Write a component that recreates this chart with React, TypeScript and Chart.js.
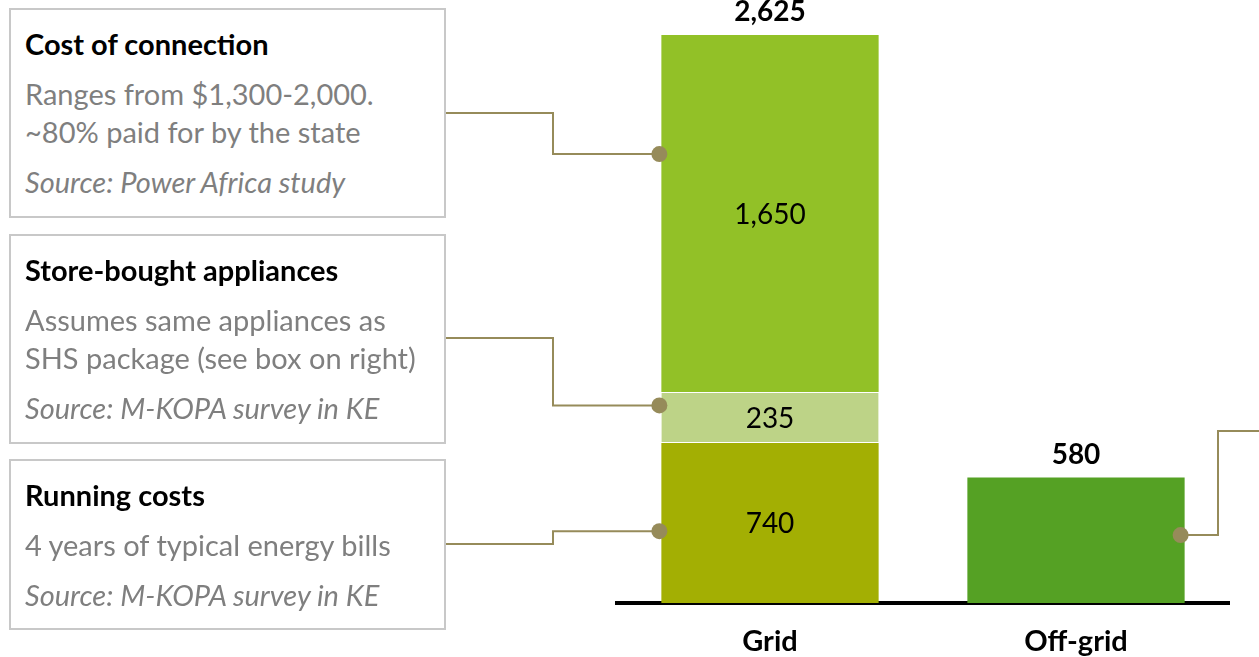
import React, { useEffect, useRef } from "react";
import { Chart, registerables } from "chart.js";

Chart.register(...registerables);

const categories = ["Grid", "Off-grid"];
const runningCosts = [740, null];
const appliances = [235, null];
const connection = [1650, null];
const offGrid = [null, 580];
const segmentColors = ["#A3AF03", "#BDD387", "#92C127", "#55A124"];
// connector anchor values (data units) for annotation dots
const anchorValues = [2075, 913, 332, 314];

const FONT = "Lato, 'Open Sans', sans-serif";
const LINE = "#968B5A";
const BOX_FONT = 29;

const boxes = [
  { top: 8, height: 210, title: "Cost of connection", lines: ["Ranges from $1,300-2,000.", "~80% paid for by the state"], source: "Source: Power Africa study", edgeY: 113 },
  { top: 234, height: 210, title: "Store-bought appliances", lines: ["Assumes same appliances as", "SHS package (see box on right)"], source: "Source: M-KOPA survey in KE", edgeY: 338 },
  { top: 459, height: 171, title: "Running costs", lines: ["4 years of typical energy bills"], source: "Source: M-KOPA survey in KE", edgeY: 544 },
];

export default function App() {
  const ref = useRef<HTMLCanvasElement>(null);
  useEffect(() => {
    if (!ref.current) return;
    const labelsPlugin = {
      id: "labels",
      afterDatasetsDraw(chart: any) {
        const ctx = chart.ctx;
        ctx.save();
        ctx.textAlign = "center";
        ctx.textBaseline = "middle";
        ctx.fillStyle = "#000";
        // segment labels for Grid
        [0, 1, 2].forEach((di) => {
          const meta = chart.getDatasetMeta(di);
          const bar = meta.data[0];
          const v = chart.data.datasets[di].data[0];
          if (v == null) return;
          ctx.font = "28px " + FONT;
          ctx.fillText(Number(v).toLocaleString("en-US"), bar.x, (bar.y + bar.base) / 2 + 1);
        });
        // totals
        categories.forEach((_, ci) => {
          let total = 0;
          let topY = Infinity;
          let x = 0;
          chart.data.datasets.forEach((ds: any, di: number) => {
            const v = ds.data[ci];
            if (v == null) return;
            total += v;
            const bar = chart.getDatasetMeta(di).data[ci];
            topY = Math.min(topY, bar.y);
            x = bar.x;
          });
          ctx.font = "bold 28px " + FONT;
          ctx.fillText(total.toLocaleString("en-US"), x, topY - 23);
        });
        // connectors
        ctx.strokeStyle = LINE;
        ctx.fillStyle = LINE;
        ctx.lineWidth = 2;
        const y = chart.scales.y;
        const gridBar = chart.getDatasetMeta(0).data[0];
        const leftX = gridBar.x - gridBar.width / 2 - 2;
        boxes.forEach((b, i) => {
          const py = y.getPixelForValue(anchorValues[i]);
          ctx.beginPath();
          ctx.moveTo(446, b.edgeY);
          ctx.lineTo(553, b.edgeY);
          ctx.lineTo(553, py);
          ctx.lineTo(leftX, py);
          ctx.stroke();
          ctx.beginPath();
          ctx.arc(leftX, py, 8, 0, Math.PI * 2);
          ctx.fill();
        });
        const offBar = chart.getDatasetMeta(3).data[1];
        const rx = offBar.x + offBar.width / 2 - 4;
        const ry = y.getPixelForValue(anchorValues[3]);
        ctx.beginPath();
        ctx.moveTo(rx, ry);
        ctx.lineTo(1218, ry);
        ctx.lineTo(1218, 431);
        ctx.lineTo(1260, 431);
        ctx.stroke();
        ctx.beginPath();
        ctx.arc(rx, ry, 8, 0, Math.PI * 2);
        ctx.fill();
        ctx.restore();
      },
    };
    const seg = (label: string, data: any[], color: string, border: boolean) => ({
      label,
      data,
      backgroundColor: color,
      borderColor: "#ffffff",
      borderWidth: border ? { top: 1, bottom: 1, left: 0, right: 0 } : 0,
      borderSkipped: false,
      barPercentage: 0.71,
      categoryPercentage: 1,
    });
    const chart = new Chart(ref.current, {
      type: "bar",
      data: {
        labels: categories,
        datasets: [
          seg("Running costs", runningCosts, segmentColors[0], false),
          seg("Store-bought appliances", appliances, segmentColors[1], true),
          seg("Cost of connection", connection, segmentColors[2], false),
          seg("Off-grid", offGrid, segmentColors[3], false),
        ],
      },
      options: {
        responsive: false,
        animation: false,
        layout: { padding: { left: 617, right: 30, top: 0, bottom: 0 } },
        plugins: { legend: { display: false }, tooltip: { enabled: false } },
        scales: {
          x: {
            stacked: true,
            grid: { display: false, drawTicks: false },
            border: { display: true, color: "#000", width: 4 },
            ticks: { color: "#000", font: { family: FONT, size: 29, weight: "bold" }, padding: 21 },
            afterFit: (scale: any) => {
              scale.height = 54;
            },
          },
          y: { stacked: true, display: false, min: 0, max: 2787 },
        },
      },
      plugins: [labelsPlugin],
    });
    return () => chart.destroy();
  }, []);

  return (
    <div style={{ position: "fixed", left: 0, top: 0, width: 1259, height: 657, background: "#fff", fontFamily: FONT }}>
      <canvas ref={ref} width={1259} height={657} style={{ position: "absolute", left: 0, top: 0 }} />
      {boxes.map((b, i) => (
        <div
          key={i}
          style={{
            position: "absolute",
            left: 9,
            top: b.top,
            width: 437,
            height: b.height,
            boxSizing: "border-box",
            border: "2px solid #C8C8C8",
            background: "#fff",
          }}
        >
          <div style={{ position: "absolute", left: 14, top: 36 - 2 - 17, lineHeight: "34px", fontSize: BOX_FONT, fontWeight: "bold", color: "#000", whiteSpace: "nowrap" }}>{b.title}</div>
          {b.lines.map((l, j) => (
            <div key={j} style={{ position: "absolute", left: 14, top: 86 + j * 38 - 2 - 17, lineHeight: "34px", fontSize: BOX_FONT, color: "#7F7F7F", whiteSpace: "nowrap" }}>{l}</div>
          ))}
          <div style={{ position: "absolute", left: 14, top: 86 + (b.lines.length - 1) * 38 + 50 - 2 - 17, lineHeight: "34px", fontSize: BOX_FONT, fontStyle: "italic", color: "#7F7F7F", whiteSpace: "nowrap" }}>{b.source}</div>
        </div>
      ))}
    </div>
  );
}
